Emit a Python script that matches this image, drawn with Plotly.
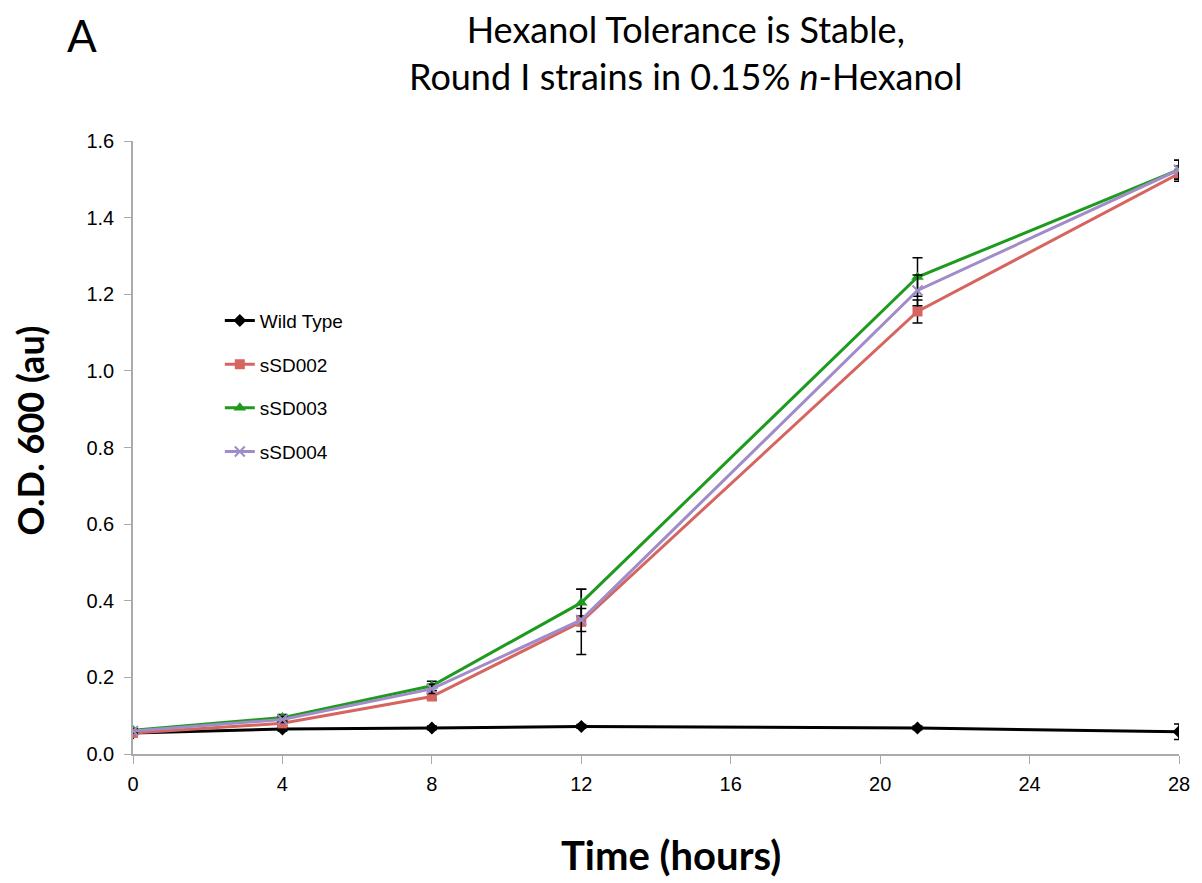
import plotly.graph_objects as go

time_hours = [0, 4, 8, 12, 21, 28]
series_names = ["Wild Type", "sSD002", "sSD003", "sSD004"]
wild_type = [0.055, 0.065, 0.068, 0.072, 0.068, 0.058]
wild_type_err = [0.005, 0.005, 0.005, 0.005, 0.005, 0.02]
ssd002 = [0.055, 0.080, 0.150, 0.345, 1.155, 1.515]
ssd002_err = [0.005, 0.005, 0.008, 0.085, 0.030, 0.020]
ssd003 = [0.062, 0.095, 0.178, 0.395, 1.245, 1.525]
ssd003_err = [0.005, 0.008, 0.012, 0.035, 0.050, 0.025]
ssd004 = [0.060, 0.090, 0.170, 0.350, 1.210, 1.525]
ssd004_err = [0.005, 0.008, 0.012, 0.030, 0.040, 0.025]

x_ticks = [0, 4, 8, 12, 16, 20, 24, 28]
y_ticks = [0.0, 0.2, 0.4, 0.6, 0.8, 1.0, 1.2, 1.4, 1.6]

styles = [
    ("#000000", "diamond", 10),
    ("#D6655F", "square", 10),
    ("#1E9B1E", "triangle-up", 11),
    ("#A08CC8", "x-thin", 10),
]
values = [wild_type, ssd002, ssd003, ssd004]
errors = [wild_type_err, ssd002_err, ssd003_err, ssd004_err]

fig = go.Figure()
for i, (name, y, e, (col, sym, sz)) in enumerate(zip(series_names, values, errors, styles)):
    marker = dict(color=col, symbol=sym, size=sz)
    if sym == "x-thin":
        marker["line"] = dict(color=col, width=2)
    fig.add_trace(go.Scatter(
        x=time_hours, y=y, name=name, mode="lines+markers",
        line=dict(color=col, width=3), marker=marker,
        legendgroup=name,
        error_y=dict(type="data", array=e, visible=True, color="#000000",
                     thickness=1.5, width=5),
    ))

# pixel helpers for paper coordinates (plot area 133..1183 x, 141..754 y)
def px_x(px):
    return (px - 133) / 1050

def px_y(py):
    return 1 + (141 - py) / 613

fig.update_layout(
    width=1202, height=883,
    margin=dict(l=133, r=19, t=141, b=129),
    paper_bgcolor="white", plot_bgcolor="white",
    showlegend=True,
    legend=dict(x=0.083, y=0.738, xanchor="left", yanchor="top",
                font=dict(family="Liberation Sans, Arial", size=19, color="#000"),
                tracegroupgap=16, bgcolor="rgba(0,0,0,0)", itemwidth=30),
    annotations=[
        dict(text="A", xref="paper", yref="paper", x=-0.065, y=1.218,
             xanchor="left", yanchor="top", showarrow=False,
             font=dict(family="Lato", size=44, color="#000")),
        dict(text="Hexanol Tolerance is Stable,<br>Round I strains in 0.15% <i>n</i>-Hexanol",
             xref="paper", yref="paper", x=px_x(688), y=1.222, xanchor="center", yanchor="top",
             showarrow=False, align="center",
             font=dict(family="Lato", size=36, color="#000")),
        dict(text="<b>Time (hours)</b>", xref="paper", yref="paper",
             x=px_x(673), y=px_y(855), xanchor="center", yanchor="middle", showarrow=False,
             borderpad=0,
             font=dict(family="Lato", size=40, color="#000")),
        dict(text="<b>O.D. 600 (au)</b>", xref="paper", yref="paper", textangle=-90,
             x=px_x(30), y=px_y(430), xanchor="center", yanchor="middle", showarrow=False,
             font=dict(family="Lato", size=36, color="#000")),
    ],
)
fig.update_xaxes(
    range=[0, 28], tickvals=x_ticks, showgrid=False, zeroline=False,
    showline=True, linecolor="#AAAAAA", linewidth=1.5,
    ticks="outside", tickcolor="#AAAAAA", ticklen=8, ticklabelstandoff=3,
    tickfont=dict(family="Liberation Sans, Arial", size=20, color="#000"),
)
fig.update_yaxes(
    range=[0, 1.6], tickvals=y_ticks, tickformat=".1f", showgrid=False, zeroline=False,
    showline=True, linecolor="#AAAAAA", linewidth=1.5,
    ticks="outside", tickcolor="#AAAAAA", ticklen=7, ticklabelstandoff=6,
    tickfont=dict(family="Liberation Sans, Arial", size=20, color="#000"),
)

fig.write_html("out.html")
